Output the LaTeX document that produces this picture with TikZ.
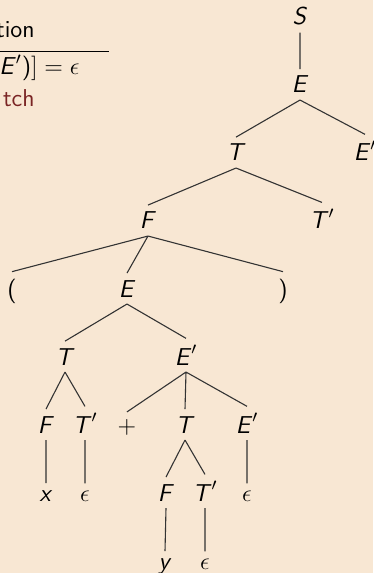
\RequirePackage{fix-cm}
\documentclass[tikz,border=0pt]{standalone}
\definecolor{slidebg}{RGB}{248,231,211}
\definecolor{alertred}{RGB}{122,36,36}
\newcommand\sv[1]{\textsf{\textit{#1}}}
\tikzset{
  lab/.style={anchor=base, font=\fontsize{12.25}{15}\selectfont},
  edge/.style={draw=black!80, line width=0.55pt},
}
\begin{document}
\begin{tikzpicture}[x=0.5bp, y=-0.5bp]
  \useasboundingbox (0,0) rectangle (373,573);
  \fill[slidebg] (0,0) rectangle (373,573);
  \clip (0,0) rectangle (373,573);

  % table fragment at the top left
  \node[lab, anchor=base east, inner sep=0pt] (hd) at (35,38) {\textsf{tion}};
  \draw[line width=0.5pt] (-2,52) coordinate (rl) -- (109,52) coordinate (rr);
  \node[lab, anchor=base west, inner sep=0pt] (row) at (-1,75) {$\sv{E}'\textsf{)}] = \epsilon$};
  \node[lab, anchor=base east, inner sep=0pt, text=alertred] (al) at (35,107) {\textsf{tch}};

  % parse tree
  \node[lab] (S)    at (300,25)  {$\sv{S}$};
  \node[lab] (E1)   at (300,93)  {$\sv{E}$};
  \node[lab] (T1)   at (236,161) {$\sv{T}$};
  \node[lab] (Ep1)  at (365,161) {$\sv{E}'$};
  \node[lab] (F1)   at (148,229) {$\sv{F}$};
  \node[lab] (Tp1)  at (322,229) {$\sv{T}'$};
  \node[lab] (lp)   at (12,297)  {\textsf{(}};
  \node[lab] (E2)   at (127,297) {$\sv{E}$};
  \node[lab] (rp)   at (283,297) {\textsf{)}};
  \node[lab] (T2)   at (65,365)  {$\sv{T}$};
  \node[lab] (Ep2)  at (186,365) {$\sv{E}'$};
  \node[lab] (F2)   at (46,433)  {$\sv{F}$};
  \node[lab] (Tp2)  at (85,433)  {$\sv{T}'$};
  \node[lab] (pl)   at (127,433) {$+$};
  \node[lab] (T3)   at (185,433) {$\sv{T}$};
  \node[lab] (Ep3)  at (247,433) {$\sv{E}'$};
  \node[lab] (x)    at (46,501)  {$\sv{x}$};
  \node[lab] (e1)   at (85,501)  {$\epsilon$};
  \node[lab] (F3)   at (166,501) {$\sv{F}$};
  \node[lab] (Tp3)  at (205,501) {$\sv{T}'$};
  \node[lab] (e2)   at (247,501) {$\epsilon$};
  \node[lab] (y)    at (165,569) {$\sv{y}$};
  \node[lab] (e3)   at (205,569) {$\epsilon$};

  \path[edge]
    (S.south) -- (E1.north)
    (E1.south) -- (T1.north)
    (E1.south) -- (Ep1.north)
    (T1.south) -- (F1.north)
    (T1.south) -- (Tp1.north)
    (F1.south) -- (lp.north)
    (F1.south) -- (E2.north)
    (F1.south) -- (rp.north)
    (E2.south) -- (T2.north)
    (E2.south) -- (Ep2.north)
    (T2.south) -- (F2.north)
    (T2.south) -- (Tp2.north)
    (Ep2.south) -- (pl.north)
    (Ep2.south) -- (T3.north)
    (Ep2.south) -- (Ep3.north)
    (F2.south) -- (x.north)
    (Tp2.south) -- (e1.north)
    (T3.south) -- (F3.north)
    (T3.south) -- (Tp3.north)
    (Ep3.south) -- (e2.north)
    (F3.south) -- (y.north)
    (Tp3.south) -- (e3.north);
\end{tikzpicture}
\end{document}
